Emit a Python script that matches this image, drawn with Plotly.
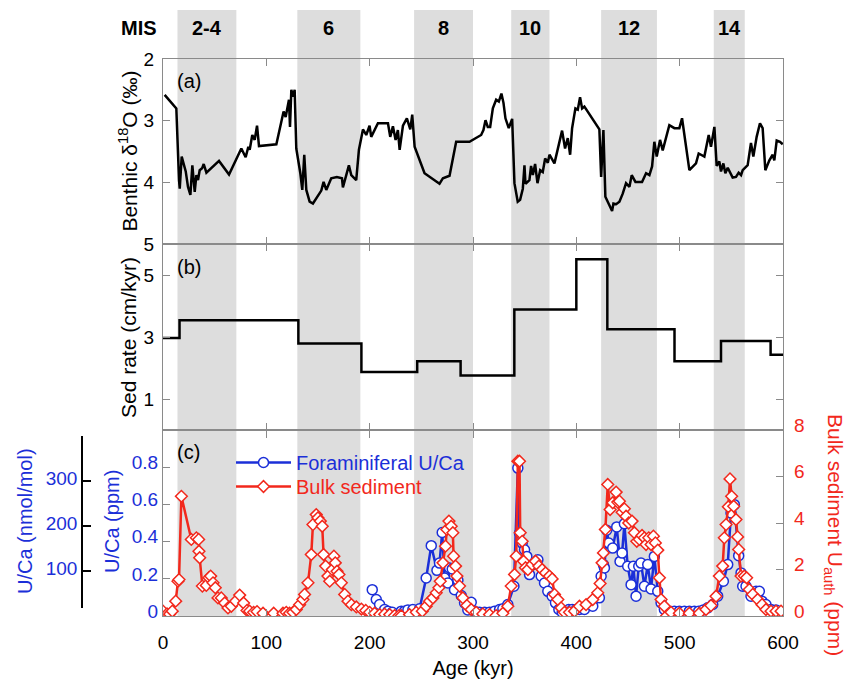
import plotly.graph_objects as go

# ---------------- data ----------------
mis_labels = ["2-4", "6", "8", "10", "12", "14"]
mis_start = [14, 130, 243, 337, 424, 533]
mis_end = [71, 191, 300, 374, 478, 563]

d18o_age = [1.6, 12.9, 15.5, 16.2, 18.1, 22.0, 24.2, 26.5, 28.4, 30.7, 32.3, 33.9, 35.5, 37.8, 39.4, 42.0,
            54.2, 63.9, 75.8, 78.1, 80.0, 82.6, 83.9, 86.4, 88.7, 91.0, 92.9, 109.7, 113.8, 116.7, 118.7,
            121.9, 122.9, 124.2, 125.8, 127.4, 129.0, 132.9, 134.8, 136.7, 138.7, 141.9, 145.1, 153.2,
            155.4, 158.0, 162.8, 168.3, 173.2, 174.1, 178.0, 179.9, 182.2, 187.0, 189.6, 193.5, 196.7,
            199.9, 201.5, 208.0, 217.7, 219.9, 222.5, 225.1, 227.3, 229.0, 232.2, 236.0, 239.3, 241.2,
            243.5, 253.1, 267.6, 270.9, 277.3, 283.7, 296.6, 299.8, 302.4, 304.7, 307.9, 310.1, 312.1,
            314.3, 316.6, 319.2, 322.4, 325.0, 327.5, 329.5, 331.4, 334.6, 337.9, 340.1, 343.3, 345.6,
            348.2, 349.8, 350.8, 354.6, 356.2, 357.9, 360.1, 362.4, 365.0, 367.5, 369.8, 372.4, 374.0,
            378.8, 386.2, 389.1, 391.7, 394.0, 395.9, 399.1, 401.4, 403.6, 405.6, 407.8, 422.3, 424.0,
            426.2, 428.1, 431.4, 434.6, 435.9, 438.5, 441.7, 444.9, 448.1, 451.4, 453.6, 457.2, 463.6,
            467.5, 470.7, 473.3, 475.5, 477.8, 481.0, 483.6, 490.0, 494.9, 499.7, 502.3, 509.4, 515.8,
            518.4, 523.9, 528.1, 530.3, 533.6, 535.8, 538.4, 540.0, 542.3, 544.2, 546.5, 551.3, 554.5,
            557.1, 559.4, 561.0, 565.8, 569.0, 571.3, 574.5, 577.7, 580.3, 582.9, 586.8, 590.0, 591.6,
            593.9, 597.1, 599.7]
d18o_val = [2.58, 2.80, 3.96, 4.10, 3.58, 3.82, 4.07, 4.20, 3.72, 4.15, 3.88, 3.96, 3.80, 3.77, 3.70, 3.84,
            3.65, 3.87, 3.45, 3.53, 3.59, 3.42, 3.47, 3.23, 3.31, 3.08, 3.41, 3.38, 3.07, 2.85, 2.94,
            2.66, 3.10, 2.50, 2.61, 2.50, 3.45, 3.85, 4.12, 3.55, 4.12, 4.31, 4.34, 4.13,
            3.99, 4.12, 3.93, 3.91, 3.93, 4.08, 3.84, 3.72, 3.88, 3.96, 3.47, 3.14, 3.23,
            3.08, 3.26, 3.04, 3.04, 3.26, 3.09, 3.31, 3.15, 3.47, 3.08, 2.96, 3.14, 2.90,
            3.42, 3.85, 4.02, 3.93, 3.89, 3.34, 3.34, 3.31, 3.28, 3.26, 3.23, 3.15, 2.99,
            3.10, 3.10, 2.80, 2.66, 2.69, 2.56, 2.71, 2.96, 3.12, 2.97, 4.01, 4.31, 4.28,
            4.10, 3.72, 4.02, 3.96, 3.73, 3.88, 3.70, 4.01, 3.80, 3.83, 3.61, 3.68, 3.55,
            3.69, 3.16, 3.45, 3.28, 3.55, 3.12, 2.80, 2.82, 2.62, 2.80, 2.77, 3.14, 3.91,
            3.15, 4.23, 4.34, 4.46, 4.34, 4.35, 4.31, 4.18, 4.01, 4.07, 3.88, 3.99, 3.99,
            3.85, 3.88, 3.74, 3.34, 3.58, 3.31, 3.48, 3.07, 3.12, 3.12, 2.96, 3.80, 3.69,
            3.53, 3.58, 3.23, 3.42, 3.10, 3.73, 3.66, 3.82, 3.69, 3.85, 3.76, 3.92, 3.91,
            3.84, 3.88, 3.80, 3.72, 3.36, 3.58, 3.26, 3.04, 3.12, 3.80, 3.64, 3.55, 3.64,
            3.32, 3.34, 3.38]

sed_age = [0, 16, 131, 192, 246, 288, 340, 400, 430, 495, 540, 588, 600]
sed_rate = [2.98, 3.55, 2.80, 1.88, 2.23, 1.77, 3.90, 5.52, 3.26, 2.23, 2.88, 2.44, 2.44]

bulk_age = [0.0, 3.9, 6.4, 9.0, 12.3, 14.5, 15.5, 17.8, 27.4, 32.3, 34.5, 34.8, 35.5, 38.1, 41.9, 44.5,
            46.1, 48.4, 50.6, 53.2, 56.4, 59.7, 62.9, 66.1, 70.3, 74.2, 78.0, 81.3, 83.8, 87.7, 91.0,
            96.8, 107.1, 116.1, 119.3, 122.5, 125.8, 129.0, 132.2, 135.4, 137.0, 140.3, 143.5, 145.1,
            148.3, 149.9, 152.2, 154.1, 155.4, 157.4, 159.6, 161.3, 163.8, 165.4, 166.7, 168.4, 170.3,
            172.6, 175.8, 179.0, 182.3, 187.1, 192.0, 196.2, 200.0, 204.8, 209.7, 214.5, 219.4, 224.2,
            228.4, 230.6, 238.6, 245.1, 250.9, 254.7, 258.0, 261.2, 264.4, 267.0, 268.3, 270.9, 273.4,
            274.7, 276.7, 278.9, 280.5, 281.2, 283.1, 284.4, 287.0, 290.2, 294.1, 298.3, 303.1, 309.5,
            316.0, 322.4, 328.9, 333.7, 337.0, 340.2, 341.8, 343.4, 345.0, 345.7, 347.6, 348.9, 350.8,
            353.1, 357.3, 360.5, 363.7, 366.9, 370.2, 374.0, 376.6, 378.9, 382.1, 385.3, 388.5, 393.4,
            398.2, 403.0, 409.4, 415.9, 420.7, 423.0, 424.9, 426.2, 428.1, 430.4, 432.7, 435.2, 438.5,
            440.1, 441.7, 444.3, 446.5, 448.1, 450.7, 453.9, 456.2, 458.5, 461.0, 463.6, 465.9, 467.5,
            470.1, 472.3, 474.6, 476.5, 478.8, 480.4, 482.0, 485.2, 487.5, 491.7, 499.7, 509.4, 519.1,
            525.5, 530.3, 535.2, 538.4, 541.6, 543.2, 544.9, 547.1, 548.7, 550.3, 552.3, 554.5, 556.1,
            557.1, 559.4, 562.6, 564.8, 567.4, 570.7, 575.5, 579.7, 583.5, 588.4, 593.2, 598.1]
bulk_u = [0.21, 0.09, 0.08, 0.21, 0.64, 1.50, 1.57, 5.16, 3.30, 3.37, 3.30, 2.79, 2.51, 1.29, 1.32, 1.65,
          1.72, 1.43, 1.22, 0.78, 0.78, 0.56, 0.35, 0.42, 0.64, 0.90, 0.56, 0.24, 0.21, 0.16, 0.19,
          0.12, 0.12, 0.12, 0.16, 0.12, 0.16, 0.28, 0.49, 0.71, 0.93, 1.43, 2.65, 3.94,
          4.37, 4.23, 4.09, 3.87, 2.65, 2.15, 1.72, 1.50, 2.00, 2.58, 2.29, 1.93, 1.79,
          1.43, 0.93, 0.64, 0.49, 0.39, 0.30, 0.24, 0.16, 0.12, 0.06, 0.08, 0.06, 0.02,
          0.02, 0.01, 0.06, 0.16, 0.21, 0.42, 0.64, 0.78, 1.00, 1.22, 1.50, 2.29, 3.01,
          3.73, 4.09, 3.87, 3.59, 2.58, 2.15, 1.72, 1.29, 0.78, 0.45, 0.28, 0.16, 0.09,
          0.06, 0.02, 0.12, 0.42, 1.29, 1.79, 2.58, 6.67, 6.67, 3.59, 3.22, 2.36, 2.08,
          2.00, 2.22, 2.36, 2.15, 2.00, 1.86, 1.72, 1.60, 0.93, 0.71, 0.35, 0.16, 0.16,
          0.21, 0.42, 0.49, 0.71, 1.00, 1.40, 2.29, 2.72, 3.73, 5.67, 4.59, 4.88, 5.34,
          4.91, 4.95, 4.47, 4.62, 4.30, 4.01, 4.09, 3.59, 3.22, 3.30, 3.47, 3.37, 3.08,
          3.37, 3.08, 3.44, 3.15, 2.84, 1.65, 0.71, 0.42, 0.01, 0.16, 0.12, 0.12, 0.12,
          0.28, 0.45, 0.85, 1.72, 2.15, 3.37, 3.94, 4.71, 5.91, 5.16, 4.73, 4.16, 3.41,
          2.87, 1.72, 1.72, 1.65, 1.14, 0.93, 0.71, 0.49, 0.28, 0.21, 0.21, 0.21]

foram_age = [202.5, 206.4, 209.6, 214.4, 217.7, 221.9, 230.6, 233.8, 237.0, 241.8, 248.3, 254.7, 259.6,
             265.1, 267.6, 270.2, 272.5, 275.7, 277.3, 279.9, 282.1, 285.4, 288.6, 291.8, 295.0, 298.3,
             301.5, 306.3, 311.2, 316.0, 320.8, 325.7, 328.9, 333.7, 339.6, 343.4, 345.0, 347.6, 349.9,
             352.1, 354.7, 357.9, 360.5, 362.8, 366.0, 369.2, 372.4, 376.6, 379.8, 383.1, 386.3, 392.7,
             396.0, 399.8, 403.0, 407.8, 415.9, 422.3, 424.0, 426.2, 427.2, 429.4, 431.4, 435.2, 439.1,
             442.3, 444.3, 446.5, 449.7, 453.0, 455.2, 457.8, 460.4, 462.6, 465.9, 469.1, 472.3, 475.5,
             478.8, 482.0, 485.2, 490.0, 494.9, 499.7, 504.6, 509.4, 514.2, 518.4, 522.9, 527.1, 532.0,
             536.8, 542.3, 546.5, 549.7, 552.9, 557.1, 559.4, 561.0, 564.2, 569.0, 573.9, 577.1, 579.7,
             583.5, 588.4, 593.2]
foram_uca = [0.142, 0.089, 0.062, 0.035, 0.026, 0.020, 0.026, 0.026, 0.033, 0.035, 0.039, 0.205, 0.379,
             0.246, 0.285, 0.450, 0.205, 0.178, 0.259, 0.253, 0.142, 0.192, 0.110, 0.071, 0.033, 0.074,
             0.026, 0.020, 0.020, 0.020, 0.026, 0.035, 0.039, 0.062, 0.160, 0.797, 0.446, 0.393, 0.357,
             0.321, 0.223, 0.277, 0.285, 0.303, 0.214, 0.178, 0.133, 0.107, 0.071, 0.035, 0.020, 0.035,
             0.035, 0.035, 0.035, 0.035, 0.053, 0.098, 0.214, 0.277, 0.259, 0.462, 0.393, 0.366, 0.480,
             0.294, 0.339, 0.497, 0.268, 0.169, 0.268, 0.107, 0.268, 0.285, 0.160, 0.277, 0.146, 0.321,
             0.133, 0.071, 0.035, 0.026, 0.026, 0.026, 0.026, 0.026, 0.026, 0.026, 0.033, 0.044, 0.062,
             0.107, 0.187, 0.277, 0.555, 0.600, 0.325, 0.232, 0.160, 0.160, 0.107, 0.133, 0.133, 0.080,
             0.062, 0.035, 0.033]

ppm_ticks = [0, 0.2, 0.4, 0.6, 0.8]
ppm_ticktext = ["0", "0.2", "0.4", "0.6", "0.8"]
nmol_ticks = [19, 100, 200, 300, 400]
nmol_ticktext = ["", "100", "200", "300", ""]
bulk_ticks = [0, 2, 4, 6, 8]
age_ticks = [0, 100, 200, 300, 400, 500, 600]

# ---------------- layout helpers ----------------
W, H = 849, 681
L, R, T, B = 60, 66, 59, 65
PW, PH = W - L - R, H - T - B


def fx(px):
    return (px - L) / PW


def fy(py):
    return (H - B - py) / PH


BLUE = "#1b2fd8"
RED = "#f2281c"
GREY = "#8a8a8a"
FONT = "Liberation Sans, Arial, sans-serif"

dom_c = [0, fy(430.4)]
dom_b = [fy(430.4), fy(244.3)]
dom_a = [fy(244.3), 1]
xdom = [fx(163), 1]

fig = go.Figure()

fig.add_trace(go.Scatter(x=d18o_age, y=d18o_val, mode="lines", line=dict(color="black", width=2.5),
                         xaxis="x3", yaxis="y3", showlegend=False))
fig.add_trace(go.Scatter(x=sed_age, y=sed_rate, mode="lines", line=dict(color="black", width=2.5, shape="hv"),
                         xaxis="x2", yaxis="y2", showlegend=False))
fig.add_trace(go.Scatter(x=bulk_age, y=bulk_u, mode="lines+markers",
                         name="<span style='color:%s'>Bulk sediment</span>" % RED,
                         line=dict(color=RED, width=2.5),
                         marker=dict(symbol="diamond", size=9, color="white", line=dict(color=RED, width=1.5)),
                         xaxis="x", yaxis="y4", legend="legend2"))
fig.add_trace(go.Scatter(x=foram_age, y=foram_uca, mode="lines+markers",
                         name="<span style='color:%s'>Foraminiferal U/Ca</span>" % BLUE,
                         line=dict(color=BLUE, width=2.5),
                         marker=dict(symbol="circle", size=10, color="white", line=dict(color=BLUE, width=1.5)),
                         xaxis="x", yaxis="y", legend="legend"))
fig.add_trace(go.Scatter(x=[None], y=[None], xaxis="x4", yaxis="y5", showlegend=False, hoverinfo="skip"))

common = dict(showline=True, linecolor=GREY, linewidth=1.2, ticks="inside", ticklen=7, tickcolor=GREY,
              tickwidth=1.2, showgrid=False, zeroline=False, automargin=False)

leg_common = dict(xanchor="left", yanchor="top", bgcolor="rgba(0,0,0,0)", font=dict(size=20),
                  itemwidth=55, tracegroupgap=0)

fig.update_layout(
    width=W, height=H, margin=dict(l=L, r=R, t=T, b=B, autoexpand=False),
    paper_bgcolor="white", plot_bgcolor="rgba(0,0,0,0)",
    font=dict(family=FONT, size=19, color="black"),
    xaxis=dict(domain=xdom, range=[0, 600], tickvals=age_ticks, anchor="y", mirror="ticks",
               tickfont=dict(size=19), ticklabelstandoff=9,
               title=dict(text="Age (kyr)", font=dict(size=20), standoff=9), **common),
    xaxis2=dict(domain=xdom, range=[0, 600], tickvals=age_ticks, anchor="y2", matches="x",
                mirror="ticks", showticklabels=False, **common),
    xaxis3=dict(domain=xdom, range=[0, 600], tickvals=age_ticks, anchor="y3", matches="x",
                mirror="ticks", showticklabels=False, **common),
    xaxis4=dict(domain=xdom, range=[0, 600], anchor="y5", visible=False, automargin=False),
    yaxis=dict(domain=dom_c, range=[0, 1.0], tickvals=ppm_ticks, ticktext=ppm_ticktext, anchor="x",
               mirror=False, tickfont=dict(color=BLUE, size=19), ticklabelshift=-5, **common),
    yaxis2=dict(domain=dom_b, range=[0, 6], tickvals=[1, 3, 5], anchor="x2", mirror="ticks",
                tickfont=dict(size=19), ticklabelstandoff=4, **common),
    yaxis3=dict(domain=dom_a, range=[5, 2], tickvals=[2, 3, 4, 5], anchor="x3", mirror="ticks",
                tickfont=dict(size=19), ticklabelstandoff=4, **common),
    yaxis4=dict(overlaying="y", side="right", anchor="x", range=[0, 8], tickvals=bulk_ticks,
                tickfont=dict(color=RED, size=19), ticklabelstandoff=6, ticklabelshift=-5, **common),
    yaxis5=dict(domain=[fy(608), fy(436)], anchor="free", position=fx(82), side="left", range=[19, 400],
                tickvals=nmol_ticks, ticktext=nmol_ticktext, showline=True, linecolor="black", linewidth=1.5,
                ticks="inside", ticklen=8, tickcolor="black", tickwidth=1.5, showgrid=False, zeroline=False,
                tickfont=dict(color=BLUE, size=19), ticklabelshift=-3, automargin=False),
    legend=dict(x=fx(231), y=fy(443), **leg_common),
    legend2=dict(x=fx(231), y=fy(467), **leg_common),
    showlegend=True,
)

# glacial stage bands
for s, e, lab in zip(mis_start, mis_end, mis_labels):
    fig.add_shape(type="rect", xref="x", yref="paper", x0=s, x1=e, y0=0, y1=fy(10),
                  fillcolor="#dddddd", line=dict(width=0), layer="below")
    fig.add_annotation(x=(s + e) / 2, y=fy(28), xref="x", yref="paper", text="<b>%s</b>" % lab,
                       showarrow=False, yanchor="middle", font=dict(size=20, color="black"))

fig.add_annotation(x=fx(159), y=fy(28), xref="paper", yref="paper", text="<b>MIS</b>", xanchor="right",
                   yanchor="middle", showarrow=False, font=dict(size=20, color="black"))

# panel letters
for lab, py in [("(a)", 81), ("(b)", 267), ("(c)", 452)]:
    fig.add_annotation(x=fx(175), y=fy(py), xref="paper", yref="paper", text=lab, xanchor="left",
                       yanchor="middle", showarrow=False, font=dict(size=20, color="black"))

# axis titles
titles = [
    ("Benthic δ<sup>18</sup>O (‰)", 128, 151.6, -90, "black", 21),
    ("Sed rate (cm/kyr)", 128, 338, -90, "black", 21),
    ("U/Ca (ppm)", 112, 522, -90, BLUE, 20),
    ("U/Ca (nmol/mol)", 25, 521, -90, BLUE, 20),
    ("Bulk sediment U<sub>auth</sub> (ppm)", 834, 535, 90, RED, 21),
]
for txt, px, py, ang, col, sz in titles:
    fig.add_annotation(x=fx(px), y=fy(py), xref="paper", yref="paper", text=txt, textangle=ang,
                       showarrow=False, font=dict(size=sz, color=col), xanchor="center", yanchor="middle")

fig.write_html("out.html")
